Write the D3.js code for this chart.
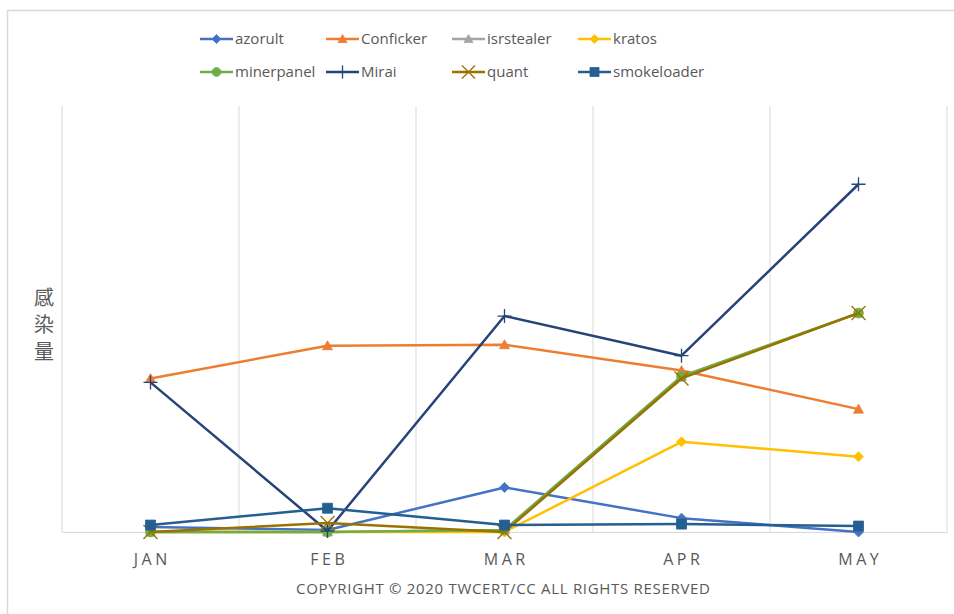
<!DOCTYPE html>
<html>
<head>
<meta charset="utf-8">
<script src="https://cdn.jsdelivr.net/npm/d3@7"></script>
<style>
  body { margin: 0; background: #fff; }
  text { font-family: "Open Sans", "Noto Sans", sans-serif; fill: #595959; }
</style>
</head>
<body>
<svg id="chart"></svg>
<script>
    var W = 954, H = 614;

    // months on the x axis
    var months = ["JAN", "FEB", "MAR", "APR", "MAY"];

    // series values (no y ticks, so units are arbitrary)
    var azorult     = [50, 20, 450, 140, 0];
    var conficker   = [1550, 1880, 1890, 1630, 1240];
    var isrstealer  = [0, 0, 20, 1570, 2210];
    var kratos      = [0, 0, 0, 910, 760];
    var minerpanel  = [0, 0, 20, 1570, 2210];
    var mirai       = [1510, 10, 2180, 1780, 3510];
    var quant       = [0, 90, 0, 1550, 2210];
    var smokeloader = [70, 240, 70, 80, 60];

    var seriesNames = ["azorult", "Conficker", "isrstealer", "kratos", "minerpanel", "Mirai", "quant", "smokeloader"];
    var seriesValues = [azorult, conficker, isrstealer, kratos, minerpanel, mirai, quant, smokeloader];
    var seriesColors = ["#4472C4", "#ED7D31", "#A5A5A5", "#FFC000", "#70AD47", "#264478", "#997300", "#255E91"];
    var seriesMarkers = ["diamond", "triangle", "triangle", "diamond", "circle", "plus", "cross", "square"];

    var yTitle = ["感", "染", "量"];
    var footer = "COPYRIGHT © 2020 TWCERT/CC ALL RIGHTS RESERVED";

    var svg = d3.select("#chart").attr("width", W).attr("height", H);

    // outer chart frame (runs off the bottom/right of the shot)
    svg.append("rect")
        .attr("x", 7.5).attr("y", 10.5)
        .attr("width", 960).attr("height", 620)
        .attr("fill", "none").attr("stroke", "#d9d9d9").attr("stroke-width", 1.5);

    var plot = {left: 62, right: 947, top: 106, bottom: 532};

    var xS = d3.scaleBand().domain(months).range([plot.left, plot.right]);
    var yS = d3.scaleLinear().domain([0, 4300]).range([plot.bottom, plot.top]);

    // vertical gridlines on the band edges
    var edges = months.map(function(m) { return xS(m); }).concat([plot.right]);
    svg.append("g").selectAll("line")
        .data(edges)
        .enter().append("line")
        .attr("x1", function(d) { return d; }).attr("x2", function(d) { return d; })
        .attr("y1", plot.top).attr("y2", plot.bottom)
        .attr("stroke", "#d9d9d9").attr("stroke-width", 1);

    // bottom axis
    var xAxis = svg.append("g")
        .attr("transform", "translate(0," + plot.bottom + ")")
        .call(d3.axisBottom(xS).tickSize(0).tickPadding(22));
    xAxis.select(".domain").attr("stroke", "#d9d9d9").attr("stroke-width", 1);
    xAxis.selectAll("text")
        .style("font-family", "'Open Sans', sans-serif")
        .style("font-size", "16px")
        .style("letter-spacing", "3.5px")
        .attr("fill", "#595959")
        .attr("dx", "1.75px");

    // y title, stacked characters
    svg.append("g").selectAll("text")
        .data(yTitle)
        .enter().append("text")
        .attr("x", 44)
        .attr("y", function(d, i) { return 305 + i * 27; })
        .attr("text-anchor", "middle")
        .style("font-family", "'Noto Sans CJK TC', sans-serif")
        .style("font-size", "20px")
        .text(function(d) { return d; });

    // footer
    svg.append("text")
        .attr("x", 503).attr("y", 594)
        .attr("text-anchor", "middle")
        .attr("textLength", 414)
        .style("font-size", "15px")
        .text(footer);

    var markerPath = function(type, size) {
        var s = size / 2;
        if (type === "diamond") return "M0," + (-s) + "L" + s + ",0L0," + s + "L" + (-s) + ",0Z";
        if (type === "triangle") return "M0," + (-s) + "L" + s + "," + (s * 0.8) + "L" + (-s) + "," + (s * 0.8) + "Z";
        if (type === "square") return "M" + (-s) + "," + (-s) + "H" + s + "V" + s + "H" + (-s) + "Z";
        if (type === "circle") return d3.symbol(d3.symbolCircle, size * size * 0.75)();
        if (type === "plus") return "M" + (-s) + ",0H" + s + "M0," + (-s) + "V" + s;
        if (type === "cross") return "M" + (-s) + "," + (-s) + "L" + s + "," + s + "M" + s + "," + (-s) + "L" + (-s) + "," + s;
        return "";
    };
    var isOpen = function(t) { return t === "plus" || t === "cross"; };

    var line = d3.line()
        .x(function(d, i) { return xS(months[i]) + xS.bandwidth() / 2; })
        .y(function(d) { return yS(d); });

    seriesValues.forEach(function(vals, k) {
        var g = svg.append("g");
        g.append("path")
            .datum(vals)
            .attr("d", line)
            .attr("fill", "none")
            .attr("stroke", seriesColors[k])
            .attr("stroke-width", 2.5)
            .attr("stroke-linejoin", "round");
        var sz = isOpen(seriesMarkers[k]) ? 14 : 10;
        g.selectAll(".mk")
            .data(vals)
            .enter().append("path")
            .attr("class", "mk")
            .attr("transform", function(d, i) {
                return "translate(" + (xS(months[i]) + xS.bandwidth() / 2) + "," + yS(d) + ")";
            })
            .attr("d", markerPath(seriesMarkers[k], sz))
            .attr("fill", isOpen(seriesMarkers[k]) ? "none" : seriesColors[k])
            .attr("stroke", seriesColors[k])
            .attr("stroke-width", isOpen(seriesMarkers[k]) ? 1.3 : 0.8);
    });

    // legend, 4 columns x 2 rows
    var legend = svg.append("g");
    var item = legend.selectAll("g")
        .data(seriesNames)
        .enter().append("g")
        .attr("transform", function(d, i) {
            return "translate(" + (200 + (i % 4) * 126) + "," + (39 + Math.floor(i / 4) * 33) + ")";
        });
    item.append("line")
        .attr("x1", 0).attr("x2", 33)
        .attr("stroke", function(d, i) { return seriesColors[i]; })
        .attr("stroke-width", 2.5);
    item.append("path")
        .attr("transform", "translate(16.5,0)")
        .attr("d", function(d, i) { return markerPath(seriesMarkers[i], isOpen(seriesMarkers[i]) ? 13 : 9); })
        .attr("fill", function(d, i) { return isOpen(seriesMarkers[i]) ? "none" : seriesColors[i]; })
        .attr("stroke", function(d, i) { return seriesColors[i]; })
        .attr("stroke-width", function(d, i) { return isOpen(seriesMarkers[i]) ? 1.3 : 0.8; });
    item.append("text")
        .attr("x", 35).attr("y", 5)
        .style("font-size", "15px")
        .text(function(d) { return d; });
</script>
</body>
</html>
